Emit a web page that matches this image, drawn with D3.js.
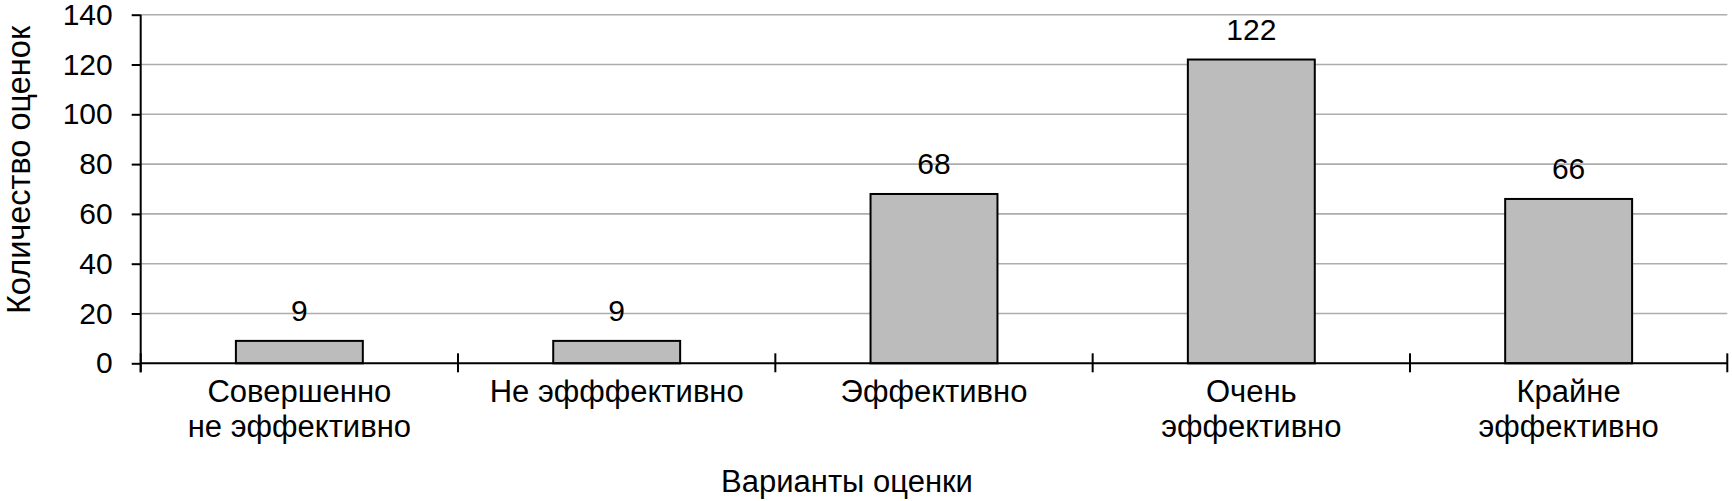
<!DOCTYPE html>
<html>
<head>
<meta charset="utf-8">
<script src="https://cdn.jsdelivr.net/npm/d3@7/dist/d3.min.js"></script>
<style>
  html, body { margin: 0; padding: 0; background: #fff; }
  svg { display: block; }
  text { font-family: "Liberation Sans", Arial, sans-serif; fill: #000; }
</style>
</head>
<body>
<svg id="chart" width="1732" height="501"></svg>
<script>
const categories = [
  ["Совершенно", "не эффективно"],
  ["Не эфффективно"],
  ["Эффективно"],
  ["Очень", "эффективно"],
  ["Крайне", "эффективно"]
];
const values = [9, 9, 68, 122, 66];
const yTicks = [0, 20, 40, 60, 80, 100, 120, 140];
const yTitle = "Количество оценок";
const xTitle = "Варианты оценки";

const svg = d3.select("#chart");
const pL = 140.7, pR = 1727.3, pT = 14.7, pB = 363.3;
const fs = 30;

const keys = categories.map((c, i) => i);
const x = d3.scaleBand().domain(keys).range([pL, pR]).paddingInner(0.6).paddingOuter(0.3);
const y = d3.scaleLinear().domain([0, 140]).range([pB, pT]);

// gridlines
svg.append("g").selectAll("line").data(yTicks.filter(d => d > 0)).join("line")
  .attr("x1", pL).attr("x2", pR)
  .attr("y1", d => y(d)).attr("y2", d => y(d))
  .attr("stroke", "#adadad").attr("stroke-width", 1.6);

// bars
svg.append("g").selectAll("rect").data(values).join("rect")
  .attr("x", (d, i) => x(i)).attr("width", x.bandwidth())
  .attr("y", d => y(d)).attr("height", d => y(0) - y(d))
  .attr("fill", "#bcbcbc").attr("stroke", "#000").attr("stroke-width", 2);

// value labels
svg.append("g").selectAll("text").data(values).join("text")
  .attr("x", (d, i) => x(i) + x.bandwidth() / 2)
  .attr("y", d => y(d) - 20)
  .attr("text-anchor", "middle").attr("font-size", fs)
  .text(d => d);

// y axis
const yAxis = d3.axisLeft(y).tickValues(yTicks).tickSize(9).tickPadding(19).tickSizeOuter(0);
const ya = svg.append("g").attr("transform", `translate(${pL},0)`).call(yAxis);
ya.select(".domain").attr("stroke", "#000").attr("stroke-width", 2).attr("d", `M0,${pT}V${pB + 9}`);
ya.selectAll(".tick line").attr("stroke", "#000").attr("stroke-width", 2);
ya.selectAll(".tick text").attr("font-size", fs).attr("font-family", "Liberation Sans, Arial, sans-serif").attr("fill", "#000");

// x axis line
svg.append("line").attr("x1", pL).attr("x2", pR).attr("y1", y(0)).attr("y2", y(0))
  .attr("stroke", "#000").attr("stroke-width", 2);
// x boundary ticks
const bounds = d3.range(categories.length + 1).map(i => pL + i * x.step());
svg.append("g").selectAll("line").data(bounds).join("line")
  .attr("x1", d => d).attr("x2", d => d)
  .attr("y1", y(0) - 10).attr("y2", y(0) + 9)
  .attr("stroke", "#000").attr("stroke-width", 2);

// category labels
const cl = svg.append("g").selectAll("text").data(categories).join("text")
  .attr("x", (d, i) => x(i) + x.bandwidth() / 2)
  .attr("y", y(0) + 38.4)
  .attr("text-anchor", "middle").attr("font-size", 31);
cl.selectAll("tspan").data(d => d).join("tspan")
  .attr("x", function() { return this.parentNode.getAttribute("x"); })
  .attr("dy", (d, i) => i === 0 ? 0 : 35)
  .text(d => d);

// axis titles
svg.append("text").attr("x", 847).attr("y", 491.7)
  .attr("text-anchor", "middle").attr("font-size", 31).text(xTitle);
svg.append("text").attr("transform", "translate(29.5,170) rotate(-90)")
  .attr("text-anchor", "middle").attr("font-size", 32.5).text(yTitle);
</script>
</body>
</html>
